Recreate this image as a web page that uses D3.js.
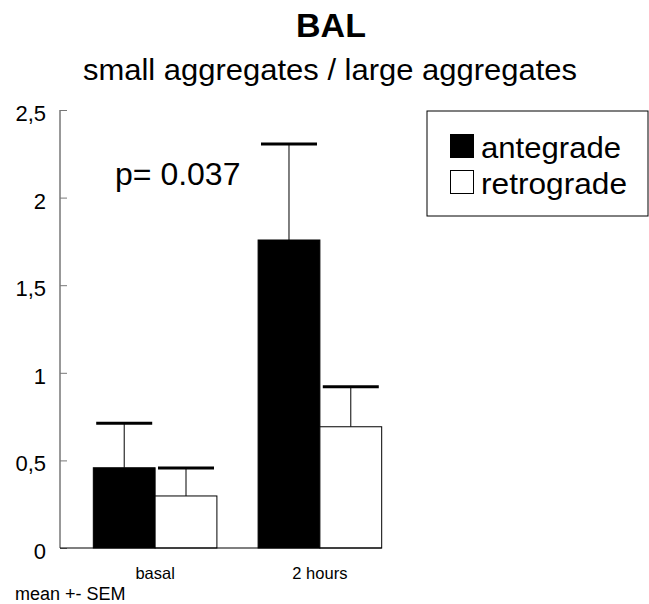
<!DOCTYPE html>
<html>
<head>
<meta charset="utf-8">
<script src="https://cdn.jsdelivr.net/npm/d3@7"></script>
<style>
  body { margin: 0; background: #fff; }
  text { font-family: "Liberation Sans", Arial, sans-serif; fill: #000; }
</style>
</head>
<body>
<div id="chart"></div>
<script>
var categories = ['basal', '2 hours'];
var seriesNames = ['antegrade', 'retrograde'];
var meanValues = [[0.458, 0.297], [1.758, 0.692]];
var semValues = [[0.254, 0.160], [0.548, 0.229]];
var yTicks = [0, 0.5, 1, 1.5, 2, 2.5];
var seriesFill = ['#000', '#fff'];

var W = 649, H = 604;
var svg = d3.select('#chart').append('svg').attr('width', W).attr('height', H);

var y = d3.scaleLinear().domain([0, 2.5]).range([548, 110]);
var x0 = d3.scaleBand().domain(categories).range([62, 413])
           .paddingInner(0.25).paddingOuter(0.19);
var x1 = d3.scaleBand().domain(seriesNames).range([0, x0.bandwidth()]);

// titles
svg.append('text').attr('x', 331).attr('y', 37).attr('text-anchor', 'middle')
   .style('font-size', '34px').style('font-weight', 'bold').text('BAL');
svg.append('text').attr('x', 83).attr('y', 80)
   .attr('textLength', 494).attr('lengthAdjust', 'spacingAndGlyphs')
   .style('font-size', '30px').text('small aggregates / large aggregates');

// y axis
var fmt = function(d) { return String(d).replace('.', ','); };
var yAxis = svg.append('g').attr('transform', 'translate(60,0)')
   .call(d3.axisRight(y).tickValues(yTicks).tickFormat('').tickSize(7));
yAxis.select('.domain').attr('stroke', '#333').attr('d', 'M0,' + y(2.5) + 'V' + y(0));
yAxis.selectAll('.tick line').attr('stroke', '#777');

svg.append('g').selectAll('text').data(yTicks).enter().append('text')
   .attr('x', 46).attr('y', function(d) { return y(d) + 11; })
   .attr('text-anchor', 'end').style('font-size', '22px')
   .text(fmt);

// bars
var groups = svg.append('g').selectAll('g').data(categories).enter().append('g')
   .attr('transform', function(c) { return 'translate(' + x0(c) + ',0)'; });

groups.each(function(c, ci) {
    var g = d3.select(this);
    seriesNames.forEach(function(s, si) {
        var v = meanValues[ci][si];
        var e = semValues[ci][si];
        var bx = x1(s), bw = x1.bandwidth();
        var cx = bx + bw / 2;
        // error stem + cap
        g.append('line').attr('x1', cx).attr('x2', cx)
         .attr('y1', y(v)).attr('y2', y(v + e))
         .attr('stroke', '#000').attr('stroke-width', 1);
        g.append('line').attr('x1', cx - 28).attr('x2', cx + 28)
         .attr('y1', y(v + e)).attr('y2', y(v + e))
         .attr('stroke', '#000').attr('stroke-width', 3);
        g.append('rect').attr('x', bx).attr('y', y(v))
         .attr('width', bw).attr('height', y(0) - y(v))
         .attr('fill', seriesFill[si]).attr('stroke', '#000').attr('stroke-width', 1);
    });
});

// baseline
svg.append('line').attr('x1', 60).attr('x2', x0(categories[1]) + x0.bandwidth())
   .attr('y1', y(0)).attr('y2', y(0)).attr('stroke', '#000').attr('stroke-width', 1.2);

// category labels
svg.append('g').selectAll('text').data(categories).enter().append('text')
   .attr('x', function(c) { return x0(c) + x0.bandwidth() / 2; })
   .attr('y', 579).attr('text-anchor', 'middle').style('font-size', '16.5px')
   .text(function(c) { return c; });

svg.append('text').attr('x', 15).attr('y', 600).style('font-size', '18px').text('mean +- SEM');

// p value
svg.append('text').attr('x', 115).attr('y', 185).style('font-size', '32px').text('p= 0.037');

// legend
var leg = svg.append('g').attr('transform', 'translate(427,111)');
leg.append('rect').attr('width', 221).attr('height', 105)
   .attr('fill', '#fff').attr('stroke', '#000').attr('stroke-width', 1);
var legWidths = [140, 146];
seriesNames.forEach(function(s, i) {
    leg.append('rect').attr('x', 23.5).attr('y', 23.5 + i * 36)
       .attr('width', 23).attr('height', 23)
       .attr('fill', seriesFill[i]).attr('stroke', '#000').attr('stroke-width', 1);
    leg.append('text').attr('x', 54).attr('y', 47 + i * 36)
       .attr('textLength', legWidths[i]).attr('lengthAdjust', 'spacingAndGlyphs')
       .style('font-size', '29px').text(s);
});
</script>
</body>
</html>
